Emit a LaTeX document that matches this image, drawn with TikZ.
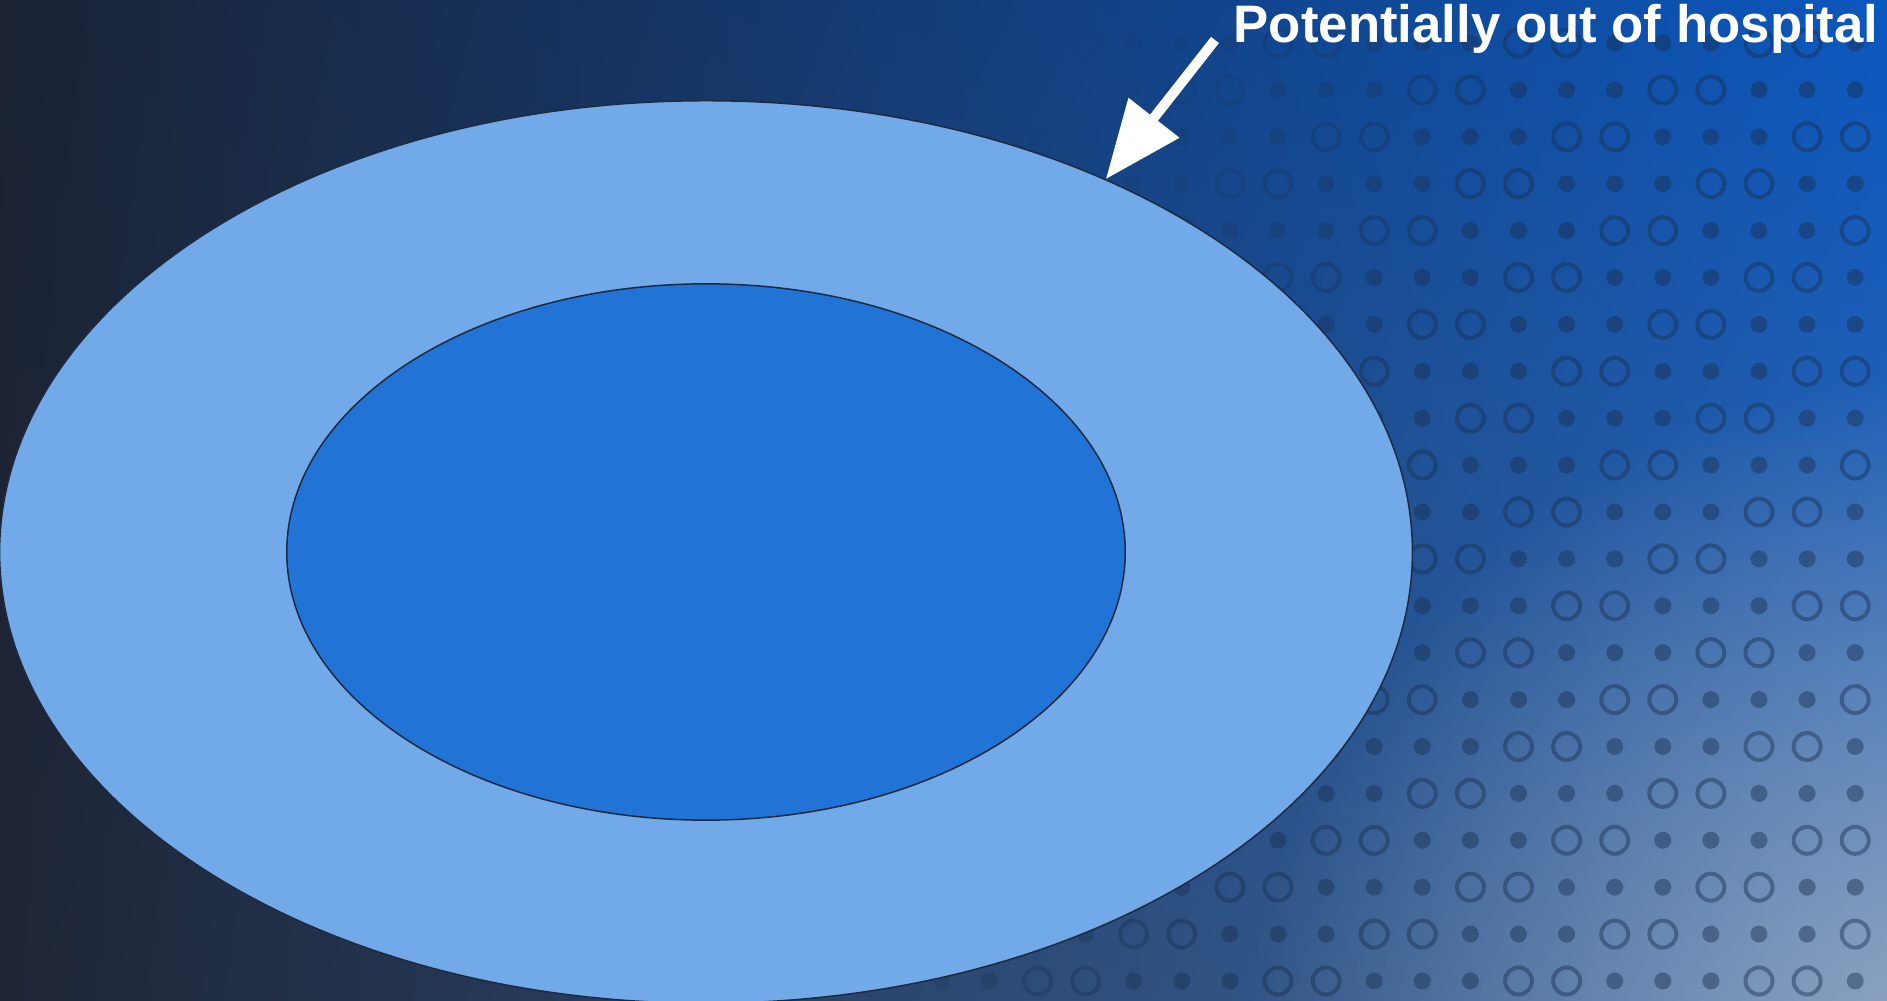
\documentclass[tikz,border=0pt]{standalone}
\usepackage{fontspec}
\setmainfont{Liberation Sans}
\usetikzlibrary{shapes.geometric,arrows.meta,fadings,shadings}

\definecolor{bgdark}{HTML}{1A2233}
\definecolor{bgdarkb}{HTML}{1E2535}
\definecolor{bgblue}{HTML}{0B57BE}
\definecolor{bgmid}{HTML}{3A6CAE}
\definecolor{glowcol}{HTML}{A3B2C6}
\definecolor{patcol}{HTML}{1A3050}
\definecolor{outerblue}{HTML}{72A9E8}
\definecolor{innerblue}{HTML}{2174D6}
\definecolor{rimcol}{HTML}{1E2A40}

\tikzfading[name=glowfade, inner color=transparent!0, outer color=transparent!100]

\tikzset{
  patring/.style={draw=patcol, line width=0.04cm},
  patdot/.style={fill=patcol},
  zone/.style={ellipse, draw=rimcol, line width=0.015cm, inner sep=0pt},
  bigarrow/.style={white, line width=0.1cm, -{Triangle[length=0.78cm,width=0.62cm]}}
}

\begin{document}
\begin{tikzpicture}[x=0.01cm, y=-0.01cm]

\useasboundingbox (0,0) rectangle (1887,1001);
\clip (0,0) rectangle (1887,1001);

% --- Background ---
\shade[upper left=bgdark, upper right=bgblue, lower left=bgdarkb, lower right=bgmid]
  (0,0) rectangle (1887,1001);
\fill[glowcol, opacity=0.9, path fading=glowfade] (1960,1090) circle (720);

% --- Dot pattern ---
\foreach \r in {0,...,20} {
    \foreach \c in {-8,...,12} {
        \pgfmathsetmacro{\px}{1278+48.1*\c}
        \pgfmathsetmacro{\py}{43+46.9*\r}
        \pgfmathsetmacro{\op}{max(0,min(1,(\px+0.35*\py-1080)/450))*0.45}
        \pgfmathtruncatemacro{\kind}{mod(\r*7+\c*11+\r*\c*5+1000,5)}
        \ifnum\kind<2
            \draw[patring, opacity=\op] (\px,\py) circle (13.5);
        \else
            \fill[patdot, opacity=\op] (\px,\py) circle (8.5);
        \fi
    }
}

% --- Ellipses ---
\node[zone, fill=outerblue, minimum width=14.12cm, minimum height=9.02cm] (outer) at (706,552) {};
\node[zone, fill=innerblue, minimum width=8.38cm, minimum height=5.36cm] (inner) at (706,552) {};

% --- Label and arrow ---
\node[anchor=base west, inner sep=0pt, text=white, font=\bfseries\fontsize{15}{18}\selectfont]
  (label) at (1233,43) {Potentially out of hospital};
\coordinate (tail) at (1215,40);
\draw[bigarrow] (tail) -- (outer.43);

\end{tikzpicture}
\end{document}
